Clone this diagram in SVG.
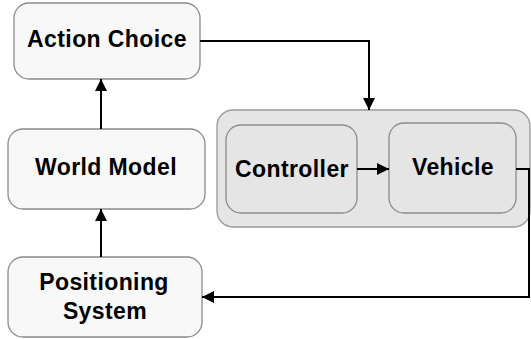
<svg xmlns="http://www.w3.org/2000/svg" width="531" height="339" viewBox="0 0 531 339">
  <defs>
    <marker id="arrow" viewBox="0 0 10 10" refX="10" refY="5" markerWidth="12" markerHeight="12" markerUnits="userSpaceOnUse" orient="auto">
      <path d="M0,0 L10,5 L0,10 z" fill="#000"/>
    </marker>
    <style>
      .node { fill: #f7f8f7; stroke: #8a8a8a; stroke-width: 1.3; }
      .group { fill: #e5e5e5; stroke: #999; stroke-width: 1.3; }
      .inner { fill: #e5e5e5; stroke: #8a8a8a; stroke-width: 1.3; }
      .label { font-family: "Liberation Sans", Arial, sans-serif; font-weight: bold; font-size: 23px; letter-spacing: 0.4px; fill: #000; text-anchor: middle; }
      .edge { fill: none; stroke: #000; stroke-width: 2; marker-end: url(#arrow); }
    </style>
  </defs>
  <rect width="531" height="339" fill="#fff"/>

  <g id="plant">
    <rect class="group" x="217" y="110" width="313" height="117" rx="16"/>
  </g>

  <g id="action-choice">
    <rect class="node" x="14" y="3" width="186" height="76" rx="15"/>
    <text class="label" x="107" y="47">Action Choice</text>
  </g>

  <g id="world-model">
    <rect class="node" x="8" y="129" width="197" height="80" rx="15"/>
    <text class="label" x="106" y="175">World Model</text>
  </g>

  <g id="positioning-system">
    <rect class="node" x="8" y="257" width="194" height="80" rx="15"/>
    <text class="label" x="104" y="290">Positioning</text>
    <text class="label" x="105" y="319">System</text>
  </g>

  <g id="controller">
    <rect class="inner" x="226" y="125" width="131" height="88" rx="15"/>
    <text class="label" x="292" y="177">Controller</text>
  </g>

  <g id="vehicle">
    <rect class="inner" x="389" y="123" width="127" height="90" rx="15"/>
    <text class="label" x="453" y="175">Vehicle</text>
  </g>

  <g id="connectors">
    <path class="edge" d="M101,257 L101,209"/>
    <path class="edge" d="M101,129 L101,79"/>
    <path class="edge" d="M200,41 L369,41 L369,110"/>
    <path class="edge" d="M357,169 L389,169"/>
    <path class="edge" d="M516,169 L529,169 L529,297 L202,297"/>
  </g>
</svg>
